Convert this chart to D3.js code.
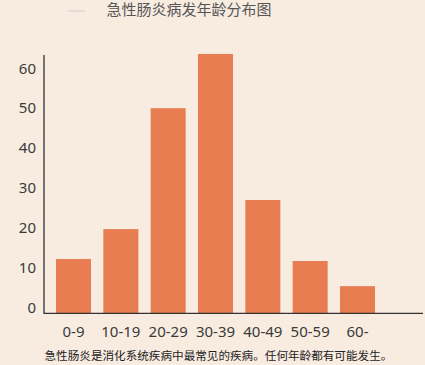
<!DOCTYPE html>
<html><head><meta charset="utf-8">
<script src="https://cdn.jsdelivr.net/npm/d3@7"></script>
<style>html,body{margin:0;padding:0;background:#f8ece1;}svg{display:block;}</style>
</head><body>
<svg id="c" width="425" height="365"></svg>
<script>
const categories = ["0-9","10-19","20-29","30-39","40-49","50-59","60-"];
const values = [12.2, 19.7, 50, 63.6, 27, 11.7, 5.4];
const yTicks = [0, 10, 20, 30, 40, 50, 60];
const title = "急性肠炎病发年龄分布图";
const caption = "急性肠炎是消化系统疾病中最常见的疾病。任何年龄都有可能发生。";

const svg = d3.select("#c");
svg.append("rect").attr("width",425).attr("height",365).attr("fill","#f8ece1");

const font = "'Noto Sans', 'Noto Sans CJK SC', sans-serif";
const axisX = 44, axisBottom = 313.3, axisTop = 55, axisRight = 423;

const x = d3.scaleBand().domain(categories).range([56, 375]).paddingInner(0.26).paddingOuter(0);
const y = d3.scaleLinear().domain([0, 60]).range([307.7, 68.3]);

// bars
svg.append("g").selectAll("rect").data(values).join("rect")
  .attr("x", (d,i) => x(categories[i]))
  .attr("width", x.bandwidth())
  .attr("y", d => y(d))
  .attr("height", d => axisBottom - y(d))
  .attr("fill", "#e87d52");

// axes lines
svg.append("line").attr("x1",axisX).attr("x2",axisX).attr("y1",axisTop).attr("y2",axisBottom+0.7)
  .attr("stroke","#333").attr("stroke-width",1.3);
svg.append("line").attr("x1",axisX).attr("x2",axisRight).attr("y1",axisBottom).attr("y2",axisBottom)
  .attr("stroke","#333").attr("stroke-width",1.3);

// y tick labels
svg.append("g").selectAll("text").data(yTicks).join("text")
  .attr("x", 36).attr("y", d => y(d)).attr("dy","0.35em")
  .attr("text-anchor","end").attr("font-family",font).attr("font-size",15).attr("fill","#3a3a3a")
  .text(d => d);

// x labels
svg.append("g").selectAll("text").data(categories).join("text")
  .attr("x", d => x(d) + x.bandwidth()/2).attr("y", 336.7)
  .attr("text-anchor","middle").attr("font-family",font).attr("font-size",15).attr("fill","#3a3a3a")
  .text(d => d);

// title
svg.append("line").attr("x1",68).attr("x2",85).attr("y1",11).attr("y2",11)
  .attr("stroke","#dcd6d0").attr("stroke-width",1.5);
svg.append("text").attr("x",106.5).attr("y",14.5).attr("font-family",font).attr("font-size",15)
  .attr("fill","#555").text(title);

// caption
svg.append("text").attr("x",44.5).attr("y",359.5).attr("font-family",font).attr("font-size",11.6)
  .attr("fill","#222").text(caption);
</script>
</body></html>
